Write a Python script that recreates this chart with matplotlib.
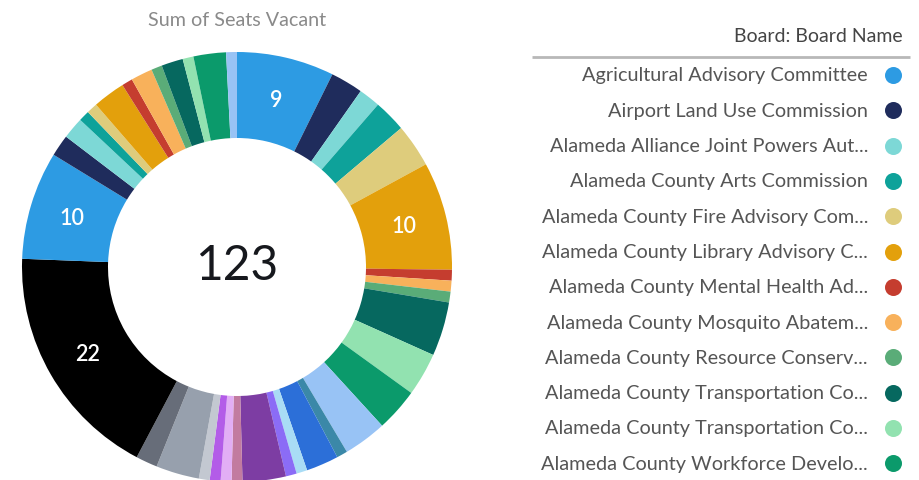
import numpy as np
import matplotlib
matplotlib.use('Agg')
import matplotlib.pyplot as plt

plt.rcParams['font.family'] = ['Lato', 'DejaVu Sans']

# seats vacant per board, clockwise from 12 o'clock
seats = [9, 3, 2, 3, 4, 10, 1, 1, 1, 5, 4, 4, 4, 1, 3, 1, 1, 4, 1, 1, 1, 1, 4, 2,
         22, 10, 2, 2, 1, 1, 3, 1, 2, 1, 2, 1, 3, 1]

palette = ['#2D9BE3', '#1F2C5C', '#7DD8D6', '#0EA29A', '#DECC7C', '#E3A00C',
           '#C53D2F', '#F8B15B', '#5AAC78', '#06685F', '#92E2B0', '#0B9A6B',
           '#98C3F5', '#3B88A8', '#2C6FD8', '#A9DCF5', '#8B6CF6', '#7D3DA3',
           '#C27BA0', '#E2AEF5', '#B35CE8', '#C3C8D1', '#97A0AD', '#676D79',
           '#000000']

legend_names = [
    'Agricultural Advisory Committee',
    'Airport Land Use Commission',
    'Alameda Alliance Joint Powers Aut...',
    'Alameda County Arts Commission',
    'Alameda County Fire Advisory Com...',
    'Alameda County Library Advisory C...',
    'Alameda County Mental Health Ad...',
    'Alameda County Mosquito Abatem...',
    'Alameda County Resource Conserv...',
    'Alameda County Transportation Co...',
    'Alameda County Transportation Co...',
    'Alameda County Workforce Develo...',
]

title = 'Sum of Seats Vacant'
legend_title = 'Board: Board Name'

W, H = 919, 481
fig = plt.figure(figsize=(W / 100, H / 100), dpi=100)

# pixel-space overlay for title and legend
ov = fig.add_axes([0, 0, 1, 1])
ov.set_xlim(0, W)
ov.set_ylim(H, 0)
ov.axis('off')

# donut
cx, cy, r = 237, 268, 215
ax = fig.add_axes([(cx - r) / W, (H - cy - r) / H, 2 * r / W, 2 * r / H])
colors = [palette[i % len(palette)] for i in range(len(seats))]
wedges, _ = ax.pie(seats, colors=colors, startangle=90, counterclock=False,
                   radius=1, wedgeprops=dict(width=0.4, linewidth=0))
ax.set_xlim(-1, 1)
ax.set_ylim(-1, 1)
ax.set_aspect('equal')
ax.axis('off')

for w, v in zip(wedges, seats):
    if v >= 9:
        mid = np.deg2rad((w.theta1 + w.theta2) / 2)
        ax.text(0.8 * np.cos(mid), 0.8 * np.sin(mid), str(v), color='white',
                ha='center', va='center', fontsize=15.5, fontweight='semibold')

ax.text(0, 0.01, str(sum(seats)), ha='center', va='center', fontsize=34.5,
        color='#16181d')

ov.text(cx, 20, title, ha='center', va='center', fontsize=14.2, color='#8a8a8a')

# legend
ov.text(903, 37, legend_title, ha='right', va='center', fontsize=14,
        color='#444444')
ov.plot([532, 910], [58, 58], color='#b8b8b8', lw=2, solid_capstyle='butt')
y0, dy = 76, 35.3
for i, name in enumerate(legend_names):
    y = y0 + i * dy
    ov.text(868, y, name, ha='right', va='center', fontsize=14.3,
            color='#555555')
    ov.scatter([893], [y], s=150, color=palette[i], linewidths=0)

fig.savefig('out.png', dpi=100)
